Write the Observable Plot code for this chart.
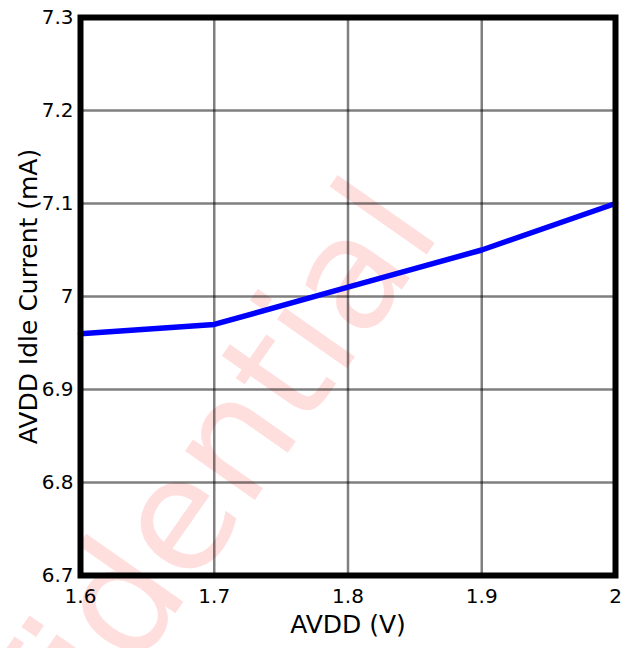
<!DOCTYPE html>
<html>
<head>
<meta charset="utf-8">
<script src="https://cdn.jsdelivr.net/npm/d3@7"></script>
<script src="https://cdn.jsdelivr.net/npm/@observablehq/plot@0.6"></script>
<style>
  html, body { margin: 0; padding: 0; background: white; }
  #wrap { position: relative; width: 633px; height: 648px; overflow: hidden; font-family: "DejaVu Sans", sans-serif; }
  #wm { position: absolute; left: 0; top: 0; }
  #chart { position: absolute; left: 0; top: 0; }
  #chart svg, #chart svg text { font-family: "DejaVu Sans", sans-serif !important; }
</style>
</head>
<body>
<div id="wrap">
  <svg id="wm" width="633" height="648">
    <text x="443" y="231" text-anchor="end" transform="rotate(-55 443 231)"
      font-family="DejaVu Sans" font-size="156" fill="rgb(255,0,0)" fill-opacity="0.13">Confidential</text>
  </svg>
  <div id="chart"></div>
</div>
<script>
const avdd = [1.6, 1.7, 1.8, 1.9, 2.0];
const idleCurrent = [6.96, 6.97, 7.01, 7.05, 7.10];
const xTicks = [1.6, 1.7, 1.8, 1.9, 2.0];
const yTicks = [6.7, 6.8, 6.9, 7.0, 7.1, 7.2, 7.3];
const xLabel = "AVDD (V)";
const yLabel = "AVDD Idle Current (mA)";

const data = avdd.map((v, i) => ({x: v, y: idleCurrent[i]}));
const fmt = d => String(d);
const FONT = "DejaVu Sans";

const chart = Plot.plot({
  width: 633,
  height: 648,
  marginLeft: 80,
  marginRight: 18,
  marginTop: 17,
  marginBottom: 73,
  style: {background: "transparent", fontFamily: FONT, fontSize: "20px", color: "black"},
  x: {domain: [1.6, 2.0]},
  y: {domain: [6.7, 7.3]},
  marks: [
    Plot.gridX(xTicks, {stroke: "#000", strokeOpacity: 0.5, strokeWidth: 2.5}),
    Plot.gridY(yTicks, {stroke: "#000", strokeOpacity: 0.5, strokeWidth: 2.5}),
    Plot.axisX(xTicks, {tickSize: 0, tickPadding: 13, tickFormat: fmt, label: null, fontSize: 20, fontFamily: FONT}),
    Plot.axisY(yTicks, {tickSize: 0, tickPadding: 7, tickFormat: fmt, label: null, fontSize: 20, fontFamily: FONT}),
    Plot.line(data, {x: "x", y: "y", stroke: "#0000ff", strokeWidth: 5.5}),
    Plot.frame({stroke: "black", strokeWidth: 6}),
    Plot.text([xLabel], {frameAnchor: "bottom", textAnchor: "middle", dy: 57, text: d => d, fontSize: 25, fontFamily: FONT, fill: "black"}),
    Plot.text([yLabel], {frameAnchor: "left", textAnchor: "middle", dx: -52, rotate: -90, text: d => d, fontSize: 25, fontFamily: FONT, fill: "black"})
  ]
});
document.getElementById("chart").appendChild(chart);
</script>
</body>
</html>
